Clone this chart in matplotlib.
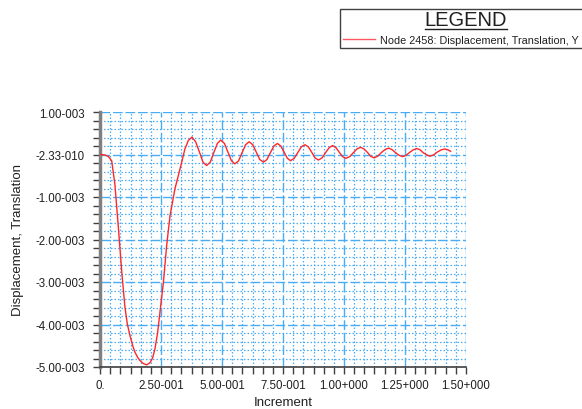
import numpy as np
import matplotlib.pyplot as plt
from matplotlib.ticker import MultipleLocator, FixedLocator, FixedFormatter

plt.rcParams["font.family"] = ["Liberation Sans", "DejaVu Sans"]

# ── Data ──────────────────────────────────────────────────────────────
increment = [0.000, 0.020, 0.035, 0.048, 0.061, 0.075, 0.089, 0.102, 0.112,
             0.123, 0.133, 0.143, 0.155, 0.164, 0.178, 0.191, 0.205, 0.216,
             0.225, 0.236, 0.246, 0.260, 0.273, 0.287, 0.307, 0.328, 0.348,
             0.362, 0.377, 0.392, 0.408, 0.422, 0.437, 0.452, 0.466, 0.481,
             0.495, 0.510, 0.524, 0.539, 0.553, 0.568, 0.582, 0.597, 0.611,
             0.626, 0.640, 0.655, 0.670, 0.684, 0.698, 0.713, 0.727, 0.741,
             0.754, 0.768, 0.781, 0.796, 0.810, 0.825, 0.840, 0.854, 0.868,
             0.881, 0.895, 0.910, 0.924, 0.939, 0.953, 0.967, 0.981, 0.994,
             1.008, 1.023, 1.038, 1.053, 1.068, 1.082, 1.096, 1.109, 1.123,
             1.138, 1.154, 1.169, 1.184, 1.198, 1.212, 1.226, 1.240, 1.254,
             1.269, 1.284, 1.298, 1.312, 1.325, 1.339, 1.352, 1.367, 1.383,
             1.399, 1.414, 1.426, 1.437]
displacement = [0.000, -0.010, -0.050, -0.150, -0.700, -1.700, -2.750, -3.580,
                -3.990, -4.260, -4.480, -4.650, -4.780, -4.850, -4.920, -4.950,
                -4.900, -4.780, -4.580, -4.200, -3.700, -3.000, -2.150, -1.440,
                -0.810, -0.340, 0.130, 0.330, 0.410, 0.300, 0.050, -0.180,
                -0.260, -0.180, 0.040, 0.260, 0.340, 0.260, 0.060, -0.150,
                -0.220, -0.150, 0.040, 0.230, 0.300, 0.230, 0.060, -0.120,
                -0.180, -0.120, 0.040, 0.200, 0.260, 0.200, 0.060, -0.090,
                -0.146, -0.090, 0.040, 0.180, 0.230, 0.180, 0.050, -0.080,
                -0.130, -0.080, 0.040, 0.160, 0.210, 0.160, 0.050, -0.050,
                -0.090, -0.050, 0.040, 0.130, 0.170, 0.130, 0.050, -0.040,
                -0.080, -0.040, 0.050, 0.120, 0.150, 0.110, 0.040, -0.020,
                -0.050, -0.020, 0.050, 0.110, 0.140, 0.110, 0.040, -0.010,
                -0.040, -0.010, 0.060, 0.110, 0.130, 0.110, 0.075]

x_ticks = [0.0, 0.25, 0.5, 0.75, 1.0, 1.25, 1.5]
x_tick_labels = ["0.", "2.50-001", "5.00-001", "7.50-001", "1.00+000", "1.25+000", "1.50+000"]
y_ticks = [1.0, 0.0, -1.0, -2.0, -3.0, -4.0, -5.0]
y_tick_labels = ["1.00-003", "-2.33-010", "-1.00-003", "-2.00-003",
                 "-3.00-003", "-4.00-003", "-5.00-003"]

legend_label = "Node 2458: Displacement, Translation, Y"

# ── Figure ────────────────────────────────────────────────────────────
fig = plt.figure(figsize=(5.82, 4.10), dpi=100)
ax = fig.add_axes([100 / 582, 1 - 368 / 410, 366 / 582, 255 / 410])

grid_blue = "#48adf5"
ax.set_xlim(0, 1.5)
ax.set_ylim(-5.0, 1.0)

ax.xaxis.set_major_locator(FixedLocator(x_ticks))
ax.xaxis.set_major_formatter(FixedFormatter(x_tick_labels))
ax.xaxis.set_minor_locator(MultipleLocator(0.25 / 6))
ax.yaxis.set_major_locator(FixedLocator(y_ticks))
ax.yaxis.set_major_formatter(FixedFormatter(y_tick_labels))
ax.yaxis.set_minor_locator(MultipleLocator(0.2))

ax.grid(which="major", color=grid_blue, linestyle=(0, (7, 2)), linewidth=1.0)
ax.grid(which="minor", color=grid_blue, linestyle=(0, (1.2, 1.6)), linewidth=0.9)
ax.set_axisbelow(True)

ax.plot(increment, displacement, color="#ff2828", linewidth=1.0, zorder=3)

for side in ("top", "right"):
    ax.spines[side].set_visible(False)
ax.spines["left"].set_color("#808080")
ax.spines["left"].set_linewidth(2.5)
ax.spines["bottom"].set_color("#404040")
ax.spines["bottom"].set_linewidth(1.2)

ax.tick_params(axis="both", which="both", direction="out", colors="#404040",
               length=5, width=1, labelsize=8.3, labelcolor="#202020")
ax.tick_params(axis="y", pad=6)
ax.tick_params(axis="x", pad=4)

ax.set_ylabel("Displacement, Translation", fontsize=9.5, labelpad=8, color="#202020")
fig.text(283 / 582, 1 - 403 / 410, "Increment", fontsize=9.5, ha="center",
         va="center", color="#202020")

# ── Legend box ────────────────────────────────────────────────────────
fig.patches.append(plt.Rectangle((340 / 582, 1 - 49 / 410), 250 / 582, 39 / 410,
                                 transform=fig.transFigure, facecolor="white",
                                 edgecolor="#404040", linewidth=1.0))
fig.text(466 / 582, 1 - 21 / 410, "LEGEND", fontsize=14.5, ha="center",
         va="center", color="#202020")
fig.add_artist(plt.Line2D([425 / 582, 507 / 582], [1 - 29.5 / 410, 1 - 29.5 / 410],
                          transform=fig.transFigure, color="#202020", linewidth=1))
fig.add_artist(plt.Line2D([343 / 582, 375 / 582], [1 - 40 / 410, 1 - 40 / 410],
                          transform=fig.transFigure, color="#ff5a64", linewidth=1))
fig.text(380 / 582, 1 - 40.5 / 410, legend_label, fontsize=7.8, ha="left",
         va="center", color="#202020")

fig.savefig("out.png", dpi=100)
